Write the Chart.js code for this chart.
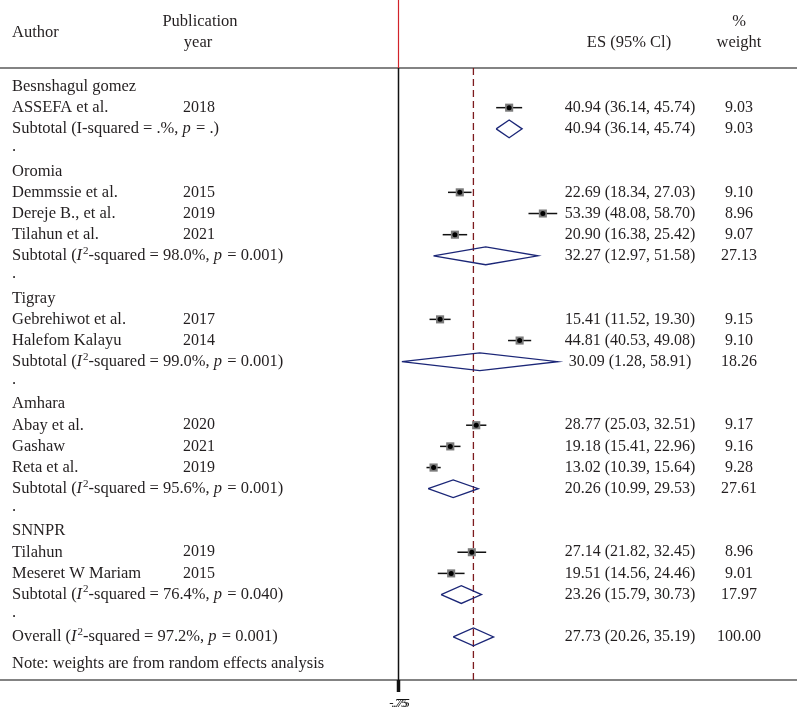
<!DOCTYPE html>
<html>
<head>
<meta charset="utf-8">
<script src="https://cdn.jsdelivr.net/npm/chart.js@4.4.1/dist/chart.umd.min.js"></script>
<style>
html,body{margin:0;padding:0;background:#fff;}
#wrap{width:797px;height:712px;}
</style>
</head>
<body>
<div id="wrap"><canvas id="c" width="797" height="712"></canvas></div>
<script>
// ---------- data ----------
const regions = ['Besnshagul gomez', 'Oromia', 'Tigray', 'Amhara', 'SNNPR'];

const studyAuthors = ['ASSEFA et al.', 'Demmssie et al.', 'Dereje B., et al.', 'Tilahun et al.',
  'Gebrehiwot et al.', 'Halefom Kalayu', 'Abay et al.', 'Gashaw', 'Reta et al.', 'Tilahun', 'Meseret W Mariam'];
const studyYears = ['2018', '2015', '2019', '2021', '2017', '2014', '2020', '2021', '2019', '2019', '2015'];
const studyRegion = [0, 1, 1, 1, 2, 2, 3, 3, 3, 4, 4];
const studyES = [40.94, 22.69, 53.39, 20.90, 15.41, 44.81, 28.77, 19.18, 13.02, 27.14, 19.51];
const studyLo = [36.14, 18.34, 48.08, 16.38, 11.52, 40.53, 25.03, 15.41, 10.39, 21.82, 14.56];
const studyHi = [45.74, 27.03, 58.70, 25.42, 19.30, 49.08, 32.51, 22.96, 15.64, 32.45, 24.46];
const studyWeight = [9.03, 9.10, 8.96, 9.07, 9.15, 9.10, 9.17, 9.16, 9.28, 8.96, 9.01];

const subES = [40.94, 32.27, 30.09, 20.26, 23.26];
const subLo = [36.14, 12.97, 1.28, 10.99, 15.79];
const subHi = [45.74, 51.58, 58.91, 29.53, 30.73];
const subWeight = [9.03, 27.13, 18.26, 27.61, 17.97];
const subI2 = ['.', '98.0', '99.0', '95.6', '76.4'];
const subP = ['.', '0.001', '0.001', '0.001', '0.040'];

const overallES = 27.73, overallLo = 20.26, overallHi = 35.19, overallWeight = 100.00;
const overallI2 = '97.2', overallP = '0.001';

const xTickLabels = ['-.75', '.75'];

// ---------- layout (row indices) ----------
const rows = [];
let r = 0;
regions.forEach((reg, gi) => {
  rows.push({kind: 'region', text: reg, y: r++});
  studyAuthors.forEach((a, i) => {
    if (studyRegion[i] === gi) rows.push({kind: 'study', i, y: r++});
  });
  rows.push({kind: 'sub', g: gi, y: r++});
  rows.push({kind: 'dot', y: r++});
});
const overallRow = r;
const noteRow = r + 1.25;
const headerLineRow = -0.874;
const bottomLineRow = 28.035;

const FONT = '"Liberation Serif", "Times New Roman", serif';
const FS = 16.5;   // label text
const FN = 16;     // numeric columns
const TXT = '#231f20';
const NAVY = '#1b2677';
const DRED = '#7d1a1e';

const col = {author: 12, year: 183, es: 630, wt: 739};

// ---------- datasets ----------
const datasets = [];
const studyRows = rows.filter(o => o.kind === 'study');
studyRows.forEach(o => {
  datasets.push({type: 'scatter', showLine: true, data: [{x: studyLo[o.i], y: o.y}, {x: studyHi[o.i], y: o.y}],
    borderColor: '#111', borderWidth: 1.5, pointRadius: 0, order: 3});
});
datasets.push({type: 'scatter', data: studyRows.map(o => ({x: studyES[o.i], y: o.y})),
  pointStyle: 'rect', pointRadius: studyRows.map(o => 1.9 * Math.sqrt(studyWeight[o.i])),
  backgroundColor: '#7a7a7a', borderWidth: 0, order: 2});
datasets.push({type: 'scatter', data: studyRows.map(o => ({x: studyES[o.i], y: o.y})),
  pointStyle: 'circle', pointRadius: 2.5, backgroundColor: '#000', borderWidth: 0, order: 1});
function diamond(es, lo, hi, y) {
  const h = 0.42;
  return {type: 'scatter', showLine: true,
    data: [{x: lo, y: y}, {x: es, y: y - h}, {x: hi, y: y}, {x: es, y: y + h}, {x: lo, y: y}],
    borderColor: NAVY, borderWidth: 1.3, pointRadius: 0, fill: false, tension: 0, order: 2};
}
rows.filter(o => o.kind === 'sub').forEach(o => datasets.push(diamond(subES[o.g], subLo[o.g], subHi[o.g], o.y)));
datasets.push(diamond(overallES, overallLo, overallHi, overallRow));
datasets.push({type: 'scatter', showLine: true, data: [{x: overallES, y: headerLineRow}, {x: overallES, y: bottomLineRow}],
  borderColor: DRED, borderWidth: 1.3, borderDash: [7, 4], pointRadius: 0, order: 4});

// ---------- drawing helpers ----------
function richText(ctx, segs, x, y) {
  let cx = x;
  segs.forEach(s => {
    const size = s.sup ? 11 : FS;
    ctx.font = (s.it ? 'italic ' : '') + size + 'px ' + FONT;
    ctx.fillText(s.t, cx, s.sup ? y - 5 : y);
    cx += ctx.measureText(s.t).width + (s.it ? 1 : 0);
  });
}

const textPlugin = {
  id: 'forestText',
  beforeDatasetsDraw(chart) {
    const ctx = chart.ctx, xs = chart.scales.x, ys = chart.scales.y;
    const W = chart.width;
    ctx.save();
    ctx.strokeStyle = '#5a5a5a'; ctx.lineWidth = 1.3;
    const yh = ys.getPixelForValue(headerLineRow), yb = ys.getPixelForValue(bottomLineRow);
    ctx.beginPath(); ctx.moveTo(0, yh); ctx.lineTo(W, yh); ctx.stroke();
    ctx.beginPath(); ctx.moveTo(0, yb); ctx.lineTo(W, yb); ctx.stroke();
    const x0 = Math.round(xs.getPixelForValue(0)) + 0.5;
    ctx.strokeStyle = '#d2232a'; ctx.lineWidth = 1.2;
    ctx.beginPath(); ctx.moveTo(x0, 0); ctx.lineTo(x0, yh); ctx.stroke();
    ctx.strokeStyle = '#111'; ctx.lineWidth = 1.5;
    ctx.beginPath(); ctx.moveTo(x0, yh); ctx.lineTo(x0, yb); ctx.stroke();
    ctx.lineWidth = 3.5;
    ctx.beginPath(); ctx.moveTo(x0, yb); ctx.lineTo(x0, yb + 12); ctx.stroke();
    ctx.fillStyle = '#111'; ctx.font = 'italic 13px ' + FONT; ctx.textAlign = 'center'; ctx.textBaseline = 'middle';
    xTickLabels.forEach(t => ctx.fillText(t, x0 + 1, yb + 24));
    ctx.restore();
  },
  afterDatasetsDraw(chart) {
    const ctx = chart.ctx, ys = chart.scales.y;
    ctx.save();
    ctx.fillStyle = TXT; ctx.textBaseline = 'middle';
    const Y = v => ys.getPixelForValue(v);
    const norm = FS + 'px ' + FONT;
    const num = FN + 'px ' + FONT;
    ctx.font = norm; ctx.textAlign = 'left';
    ctx.fillText('Author', col.author, Y(-2.55));
    ctx.textAlign = 'center';
    ctx.fillText('Publication', 200, Y(-3.05));
    ctx.fillText('year', 198, Y(-2.05));
    ctx.fillText('ES (95% Cl)', 629, Y(-2.05));
    ctx.fillText('%', 739, Y(-3.05));
    ctx.fillText('weight', 739, Y(-2.05));
    const ci = (e, l, h) => e.toFixed(2) + ' (' + l.toFixed(2) + ', ' + h.toFixed(2) + ')';
    rows.forEach(o => {
      const y = Y(o.y);
      ctx.textAlign = 'left'; ctx.font = norm;
      if (o.kind === 'region') ctx.fillText(o.text, col.author, y);
      else if (o.kind === 'dot') ctx.fillText('.', col.author, y - 3);
      else if (o.kind === 'study') {
        ctx.fillText(studyAuthors[o.i], col.author, y);
        ctx.font = num;
        ctx.fillText(studyYears[o.i], col.year, y);
        ctx.textAlign = 'center';
        ctx.fillText(ci(studyES[o.i], studyLo[o.i], studyHi[o.i]), col.es, y);
        ctx.fillText(studyWeight[o.i].toFixed(2), col.wt, y);
      } else if (o.kind === 'sub') {
        const g = o.g;
        let segs;
        if (subI2[g] === '.') {
          segs = [{t: 'Subtotal (I-squared = .%, '}, {t: 'p', it: true}, {t: ' = .)'}];
        } else {
          segs = [{t: 'Subtotal ('}, {t: 'I', it: true}, {t: '2', sup: true},
            {t: '-squared = ' + subI2[g] + '%, '}, {t: 'p', it: true}, {t: ' = ' + subP[g] + ')'}];
        }
        richText(ctx, segs, col.author, y);
        ctx.font = num; ctx.textAlign = 'center';
        ctx.fillText(ci(subES[g], subLo[g], subHi[g]), col.es, y);
        ctx.fillText(subWeight[g].toFixed(2), col.wt, y);
      }
    });
    const yo = Y(overallRow);
    ctx.textAlign = 'left';
    richText(ctx, [{t: 'Overall ('}, {t: 'I', it: true}, {t: '2', sup: true},
      {t: '-squared = ' + overallI2 + '%, '}, {t: 'p', it: true}, {t: ' = ' + overallP + ')'}], col.author, yo);
    ctx.font = num; ctx.textAlign = 'center';
    ctx.fillText(ci(overallES, overallLo, overallHi), col.es, yo);
    ctx.fillText(overallWeight.toFixed(2), col.wt, yo);
    ctx.textAlign = 'left'; ctx.font = norm;
    ctx.fillText('Note: weights are from random effects analysis', col.author, Y(noteRow));
    ctx.restore();
  }
};

const bgPlugin = {
  id: 'bg',
  beforeDraw(chart) {
    const ctx = chart.ctx; ctx.save(); ctx.fillStyle = '#fff'; ctx.fillRect(0, 0, chart.width, chart.height); ctx.restore();
  }
};

new Chart(document.getElementById('c'), {
  type: 'scatter',
  data: {datasets},
  options: {
    responsive: false,
    animation: false,
    layout: {padding: 0, autoPadding: false},
    plugins: {legend: {display: false}, tooltip: {enabled: false}},
    scales: {
      x: {type: 'linear', min: -147.2, max: 147.3, display: false},
      y: {type: 'linear', min: -4.086, max: 29.547, reverse: true, display: false}
    }
  },
  plugins: [bgPlugin, textPlugin]
});
</script>
</body>
</html>
